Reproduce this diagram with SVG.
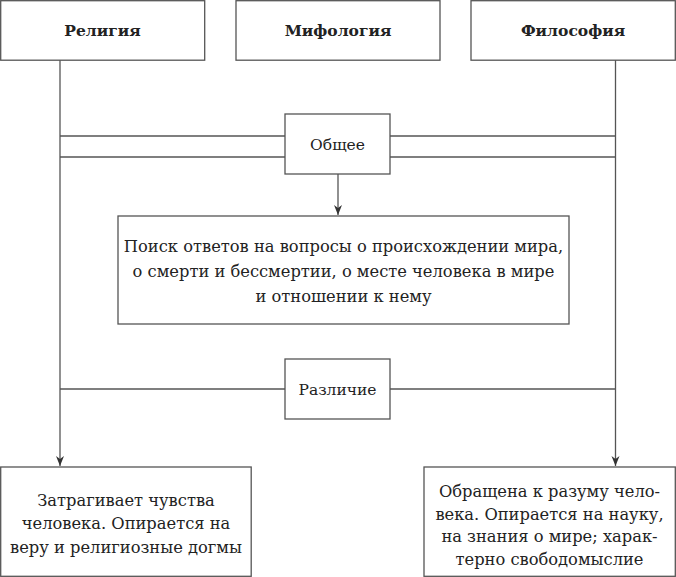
<svg xmlns="http://www.w3.org/2000/svg" width="676" height="577" viewBox="0 0 676 577">
<style>
.box{fill:#fff;stroke:#555;stroke-width:1.3}
.ln{fill:none;stroke:#555;stroke-width:1.3}
text{font-family:"DejaVu Serif","Liberation Serif",serif;font-size:15.5px;fill:#222;text-anchor:middle}
.h{font-weight:bold}
.b{font-size:16.3px}
</style>
<defs>
<marker id="ar" viewBox="0 0 10 10" refX="10" refY="5" markerWidth="10" markerHeight="10" markerUnits="userSpaceOnUse" orient="auto">
<path d="M0,1 L10,5 L0,9 L3,5 Z" fill="#333"/>
</marker>
</defs>
<g id="connectors">
<line class="ln" x1="60" y1="60" x2="60" y2="466" marker-end="url(#ar)"/>
<line class="ln" x1="615.5" y1="60" x2="615.5" y2="466" marker-end="url(#ar)"/>
<line class="ln" x1="60" y1="136" x2="285" y2="136"/>
<line class="ln" x1="60" y1="157" x2="285" y2="157"/>
<line class="ln" x1="390" y1="136" x2="615.5" y2="136"/>
<line class="ln" x1="390" y1="157" x2="615.5" y2="157"/>
<line class="ln" x1="338" y1="174" x2="338" y2="215" marker-end="url(#ar)"/>
<line class="ln" x1="60" y1="389" x2="285" y2="389"/>
<line class="ln" x1="390" y1="389" x2="615.5" y2="389"/>
</g>
<g id="religion">
<rect class="box" x="0.7" y="0.7" width="204" height="59.5"/>
<text class="h" x="102.5" y="36">Религия</text>
</g>
<g id="mythology">
<rect class="box" x="236" y="0.7" width="204" height="59.5"/>
<text class="h" x="338" y="36">Мифология</text>
</g>
<g id="philosophy">
<rect class="box" x="471" y="0.7" width="204.3" height="59.5"/>
<text class="h" x="573" y="36">Философия</text>
</g>
<g id="common">
<rect class="box" x="285" y="114" width="105" height="60"/>
<text x="337.5" y="150">Общее</text>
</g>
<g id="common-content">
<rect class="box" x="118" y="216" width="451" height="108"/>
<text class="b" x="343.5" y="251.5">Поиск ответов на вопросы о происхождении мира,</text>
<text class="b" x="343.5" y="276.5">о смерти и бессмертии, о месте человека в мире</text>
<text class="b" x="343.5" y="301.5">и отношении к нему</text>
</g>
<g id="difference">
<rect class="box" x="285" y="359" width="105" height="60"/>
<text x="337.5" y="395">Различие</text>
</g>
<g id="religion-diff">
<rect class="box" x="0.7" y="467" width="250.5" height="109.3"/>
<text class="b" x="126" y="505.5">Затрагивает чувства</text>
<text class="b" x="126" y="529">человека. Опирается на</text>
<text class="b" x="126" y="552.5">веру и религиозные догмы</text>
</g>
<g id="philosophy-diff">
<rect class="box" x="424" y="467" width="251.3" height="109.3"/>
<text class="b" x="549.5" y="497">Обращена к разуму чело-</text>
<text class="b" x="549.5" y="519.5">века. Опирается на науку,</text>
<text class="b" x="549.5" y="542">на знания о мире; харак-</text>
<text class="b" x="549.5" y="564.5">терно свободомыслие</text>
</g>
</svg>
